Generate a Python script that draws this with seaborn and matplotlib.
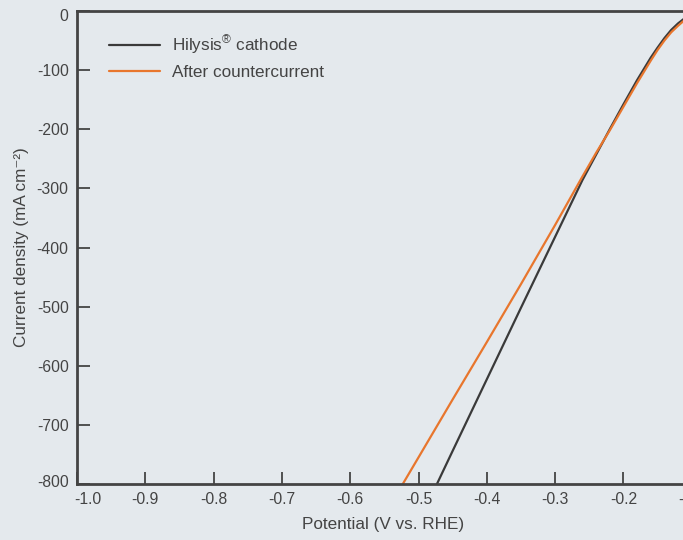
import numpy as np
import pandas as pd
import matplotlib
matplotlib.use("Agg")
import matplotlib.pyplot as plt
import matplotlib.transforms as mtransforms
import seaborn as sns

# values
hilysis_x = [-0.52, -0.473, -0.45, -0.40, -0.35, -0.30, -0.26, -0.24, -0.22, -0.20, -0.18, -0.16, -0.15, -0.14, -0.13, -0.12, -0.11, -0.10, -0.09, -0.08]
hilysis_y = [-915, -800, -744, -623, -502, -382, -286, -243, -200, -158, -117, -79, -62, -46, -32, -21, -12, -5, -1, 0]
counter_x = [-0.55, -0.523, -0.50, -0.45, -0.40, -0.35, -0.30, -0.26, -0.24, -0.22, -0.20, -0.18, -0.16, -0.15, -0.14, -0.13, -0.12, -0.11, -0.10, -0.09, -0.08]
counter_y = [-853, -800, -755, -657, -560, -462, -362, -280, -240, -202, -162, -122, -84, -66, -50, -36, -25, -15, -8, -2, 0]

xticks = [-1.0, -0.9, -0.8, -0.7, -0.6, -0.5, -0.4, -0.3, -0.2, -0.1, 0.0]
yticks = [0, -100, -200, -300, -400, -500, -600, -700, -800]

df = pd.concat([
    pd.DataFrame({"x": hilysis_x, "y": hilysis_y, "s": "Hilysis$^{\u00ae}$ cathode"}),
    pd.DataFrame({"x": counter_x, "y": counter_y, "s": "After countercurrent"}),
])

bg = "#e4e9ed"
ink = "#444444"
sns.set_style("ticks")
plt.rcParams["font.family"] = ["Liberation Sans", "DejaVu Sans"]
plt.rcParams["mathtext.fontset"] = "custom"
plt.rcParams["mathtext.rm"] = "Liberation Sans"

fig = plt.figure(figsize=(6.83, 5.4), dpi=100, facecolor=bg)
ax = fig.add_axes([77 / 683, 56 / 540, 1.0, 473 / 540])
ax.set_facecolor(bg)

sns.lineplot(data=df, x="x", y="y", hue="s", sort=False, ax=ax,
             palette=["#3a3a3a", "#e8762d"], linewidth=1.6)

ax.set_xlim(-1.0, 0.0)
ax.set_ylim(-800, 0)
ax.set_xticks(xticks)
ax.set_yticks(yticks)
ax.set_xticklabels([f"{t:.1f}" for t in xticks])
ax.set_yticklabels([str(t) for t in yticks])
ax.tick_params(direction="in", length=9, width=1.3, colors=ink, labelsize=11.3, pad=6)
for sp in ax.spines.values():
    sp.set_color(ink)
    sp.set_linewidth(2)

# small nudges to the corner labels, like the reference
xl = ax.get_xticklabels()
xl[0].set_transform(xl[0].get_transform() + mtransforms.ScaledTranslation(11 / 100, 0, fig.dpi_scale_trans))
yl = ax.get_yticklabels()
yl[0].set_transform(yl[0].get_transform() + mtransforms.ScaledTranslation(0, -4 / 100, fig.dpi_scale_trans))
yl[-1].set_transform(yl[-1].get_transform() + mtransforms.ScaledTranslation(0, 3 / 100, fig.dpi_scale_trans))

ax.set_xlabel("Potential (V vs. RHE)", fontsize=12.3, color=ink)
ax.xaxis.set_label_coords(306 / 683, -0.07)
ax.set_ylabel("Current density (mA cm\u207b\u00b2)", fontsize=12.3, color=ink)
ax.yaxis.set_label_coords(-0.071, 0.5)

leg = ax.legend(loc="upper left", bbox_to_anchor=(0.024, 0.985), frameon=False,
                fontsize=12.3, handlelength=3.0, handletextpad=0.7, labelspacing=0.45)
for t in leg.get_texts():
    t.set_color(ink)

fig.savefig("out.png", dpi=100, facecolor=bg)
